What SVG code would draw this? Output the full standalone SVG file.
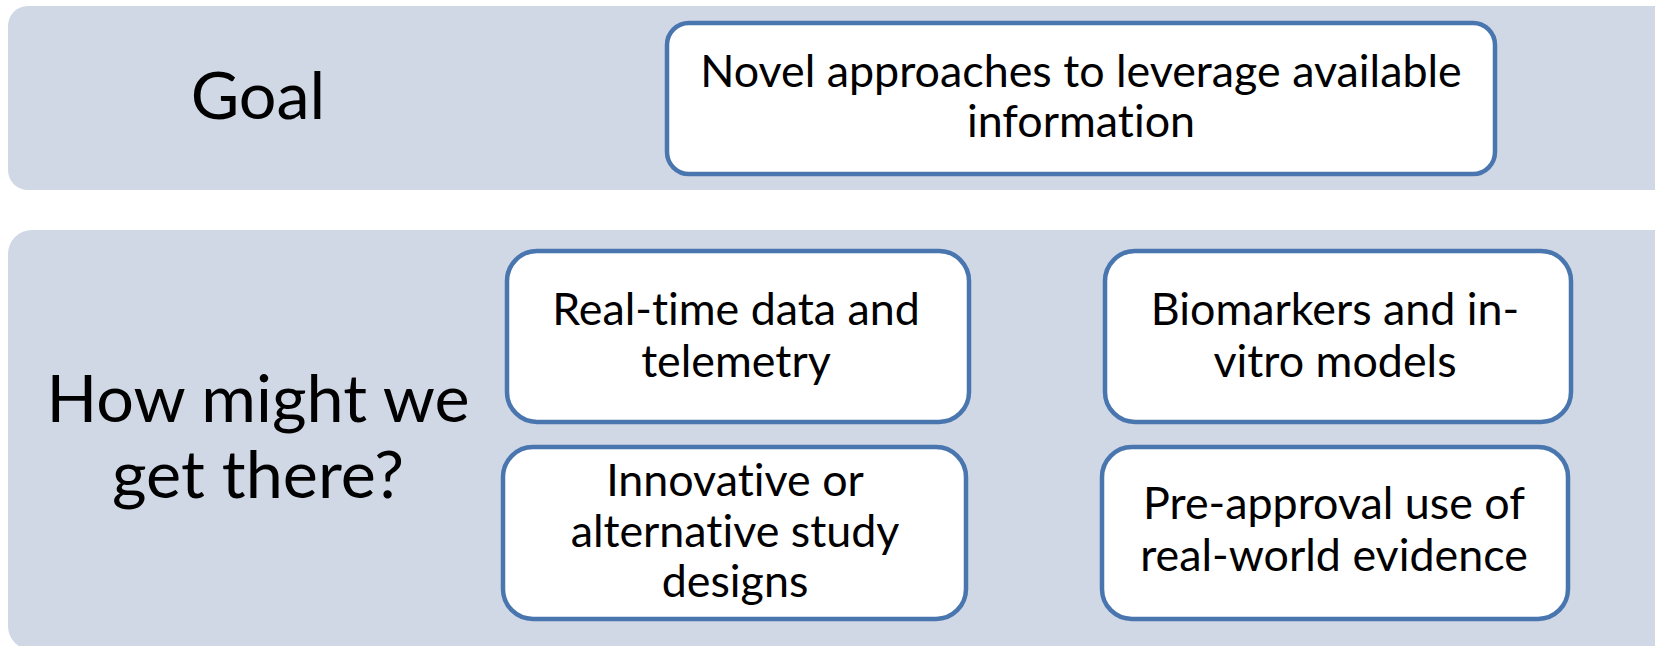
<svg xmlns="http://www.w3.org/2000/svg" width="1655" height="646" viewBox="0 0 1655 646">
<style>
.band{fill:#D0D8E6;}
.box{fill:#FFFFFF;stroke:#4A76AF;stroke-width:4.5;}
.t{font-family:Lato,"Liberation Sans",sans-serif;fill:#000;text-anchor:middle;font-variant-ligatures:none;font-feature-settings:"liga" 0;}
.big{font-size:66.5px;}
.med{font-size:44.8px;}
</style>
<rect width="1655" height="646" fill="#FFFFFF"/>
<g id="band-goal">
<rect class="band" x="8" y="6" width="1680" height="184" rx="20"/>
<text class="t big" x="258" y="119">Goal</text>
</g>
<g id="band-how">
<rect class="band" x="8" y="230" width="1680" height="420" rx="24"/>
<text class="t big" x="258" y="422">How might we</text>
<text class="t big" x="258" y="498">get there?</text>
</g>
<g id="node-goal">
<rect class="box" x="667" y="23" width="828" height="151" rx="22"/>
<text class="t med" x="1081" y="87">Novel approaches to leverage available</text>
<text class="t med" x="1081" y="137">information</text>
</g>
<g id="node-realtime">
<rect class="box" x="507" y="251" width="462" height="171" rx="30"/>
<text class="t med" x="736" y="325">Real-time data and</text>
<text class="t med" x="736" y="377">telemetry</text>
</g>
<g id="node-innovative">
<rect class="box" x="503" y="447" width="463" height="172" rx="30"/>
<text class="t med" x="735" y="496">Innovative or</text>
<text class="t med" x="735" y="547">alternative study</text>
<text class="t med" x="735" y="597">designs</text>
</g>
<g id="node-biomarkers">
<rect class="box" x="1105" y="251" width="466" height="171" rx="30"/>
<text class="t med" x="1335" y="325">Biomarkers and in-</text>
<text class="t med" x="1335" y="377">vitro models</text>
</g>
<g id="node-preapproval">
<rect class="box" x="1102" y="447" width="466" height="172" rx="30"/>
<text class="t med" x="1334" y="519">Pre-approval use of</text>
<text class="t med" x="1334" y="571">real-world evidence</text>
</g>
<g id="connectors"></g>
</svg>
